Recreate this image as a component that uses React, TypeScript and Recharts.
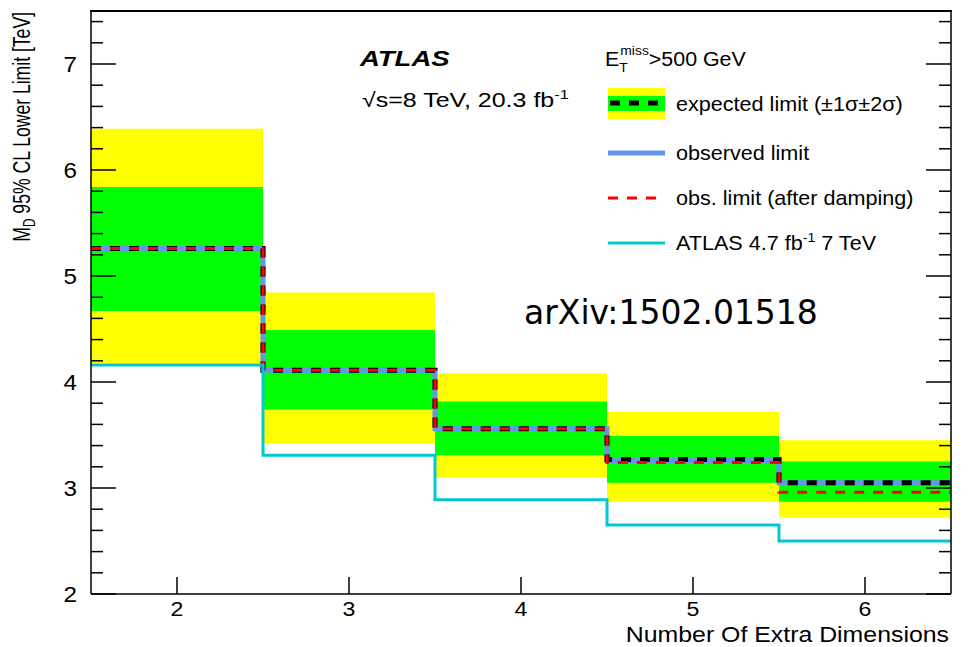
import {Area, ComposedChart, Line, XAxis, YAxis} from 'recharts';

// number of extra dimensions, one bin each
const bins = [2, 3, 4, 5, 6];
const binEdges = [1.5, 2.5, 3.5, 4.5, 5.5, 6.5];

// MD 95% CL lower limits [TeV]
const expected = [5.26, 4.11, 3.56, 3.27, 3.05];
const observed = [5.26, 4.11, 3.56, 3.26, 3.05];
const observedDamped = [5.26, 4.11, 3.56, 3.24, 2.96];
const plus1Sigma = [5.84, 4.49, 3.815, 3.49, 3.25];
const minus1Sigma = [4.67, 3.74, 3.31, 3.05, 2.87];
const plus2Sigma = [6.39, 4.845, 4.08, 3.72, 3.45];
const minus2Sigma = [4.18, 3.42, 3.1, 2.87, 2.72];
const atlas7TeV = [4.16, 3.31, 2.89, 2.65, 2.5];

const xTicks = [2, 3, 4, 5, 6];
const yTicks = [
  2, 2.2, 2.4, 2.6, 2.8, 3, 3.2, 3.4, 3.6, 3.8, 4, 4.2, 4.4, 4.6, 4.8,
  5, 5.2, 5.4, 5.6, 5.8, 6, 6.2, 6.4, 6.6, 6.8, 7, 7.2, 7.4,
];
const yTickLabels = [2, 3, 4, 5, 6, 7];
const yMax = 7.5;

const FONT = '"Liberation Sans", Arial, Helvetica, sans-serif';
const BLUE = '#6495ed';
const CYAN = '#00c8d2';
const DASH = '10 9';

// step lines need a point on every bin edge; last edge repeats the last bin
const chartData = binEdges.map((edge, i) => {
  const j = Math.min(i, bins.length - 1);
  return {
    x: edge,
    expected: expected[j],
    observed: observed[j],
    damped: observedDamped[j],
    atlas7: atlas7TeV[j],
    band1: [minus1Sigma[j], plus1Sigma[j]],
    band2: [minus2Sigma[j], plus2Sigma[j]],
  };
});

// ROOT text looks a bit wider than Liberation Sans, so stretch it horizontally
const Stretched = ({x, y, sx = 1.08, children, ...rest}: any) => (
  <g transform={`translate(${x},${y}) scale(${sx},1)`}>
    <text x={0} y={0} {...rest}>{children}</text>
  </g>
);

const LeftTick = ({x, y, payload}: any) => {
  const major = yTickLabels.includes(payload.value);
  return (
    <g>
      <line x1={x} x2={x + (major ? 25 : 12)} y1={y} y2={y} stroke="#000" strokeWidth={1.5}/>
      {major && (
        <Stretched x={x - 14} y={y + 8} sx={1.1} textAnchor="end" fontSize={22} fontFamily={FONT} fill="#000">
          {payload.value}
        </Stretched>
      )}
    </g>
  );
};

const RightTick = ({x, y, payload}: any) => {
  const major = yTickLabels.includes(payload.value);
  return <line x1={x} x2={x - (major ? 25 : 12)} y1={y} y2={y} stroke="#000" strokeWidth={1.5}/>;
};

const BottomTick = ({x, y, payload}: any) => (
  <g>
    <line x1={x} x2={x} y1={y} y2={y - 17} stroke="#000" strokeWidth={1.5}/>
    <Stretched x={x} y={y + 22} sx={1.1} textAnchor="middle" fontSize={21} fontFamily={FONT} fill="#000">
      {payload.value}
    </Stretched>
  </g>
);

const Overlay = () => (
  <svg
    width={969}
    height={647}
    style={{position: 'absolute', left: -8, top: -8, pointerEvents: 'none'}}
    fontFamily={FONT}
  >
    {/* top edge of the frame */}
    <rect x={90} y={10} width={862} height={2} fill="#000"/>

    <text transform="translate(30,12) rotate(-90) scale(0.733,1)" textAnchor="end" fontSize={24}>
      M<tspan fontSize={16} dy={5}>D</tspan>
      <tspan dy={-5}> 95% CL Lower Limit [TeV]</tspan>
    </text>
    <Stretched x={949} y={642} sx={1.13} textAnchor="end" fontSize={22}>Number Of Extra Dimensions</Stretched>

    <Stretched x={360} y={66} sx={1.25} fontSize={22} fontWeight="bold" fontStyle="italic">ATLAS</Stretched>
    <Stretched x={362} y={107} sx={1.25} fontSize={20}>
      √s=8 TeV, 20.3 fb<tspan fontSize={13} dy={-8}>-1</tspan>
    </Stretched>
    <text x={524} y={324} fontSize={33} fontFamily='"DejaVu Sans", sans-serif'>arXiv:1502.01518</text>

    <Stretched x={605} y={66} sx={1.07} fontSize={20}>
      E<tspan fontSize={13} dy={6}>T</tspan>
      <tspan fontSize={13} dx={-7} dy={-17}>miss</tspan>
      <tspan dy={11}>&gt;500 GeV</tspan>
    </Stretched>

    <rect x={608} y={88} width={57} height={31} fill="#ffff00"/>
    <rect x={608} y={96} width={57} height={15} fill="#00ff00"/>
    <line x1={610} x2={665} y1={103} y2={103} stroke="#000" strokeWidth={5} strokeDasharray={DASH}/>
    <Stretched x={676} y={111} fontSize={20}>expected limit (±1σ±2σ)</Stretched>

    <line x1={608} x2={665} y1={153} y2={153} stroke={BLUE} strokeWidth={5}/>
    <Stretched x={676} y={160} fontSize={20}>observed limit</Stretched>

    <line x1={608} x2={665} y1={198} y2={198} stroke="#ff0000" strokeWidth={3} strokeDasharray={DASH}/>
    <Stretched x={676} y={205} fontSize={20}>obs. limit (after damping)</Stretched>

    <line x1={608} x2={665} y1={243} y2={243} stroke={CYAN} strokeWidth={3}/>
    <Stretched x={676} y={250} fontSize={20}>
      ATLAS 4.7 fb<tspan fontSize={13} dy={-8}>-1</tspan>
      <tspan dy={8}> 7 TeV</tspan>
    </Stretched>
  </svg>
);

export default function App() {
  return (
    <div style={{position: 'relative', width: 961, height: 639, fontFamily: FONT}}>
      <ComposedChart width={961} height={639} data={chartData} margin={{top: 3, right: 0, bottom: 0, left: 0}}>
        <XAxis
          dataKey="x"
          type="number"
          domain={[1.5, 6.5]}
          ticks={xTicks}
          interval={0}
          height={53}
          tickSize={0}
          tickMargin={0}
          tickLine={false}
          tick={<BottomTick/>}
          axisLine={{stroke: '#000', strokeWidth: 1.5}}
          allowDataOverflow
        />
        <YAxis
          type="number"
          domain={[2, yMax]}
          ticks={yTicks}
          interval={0}
          width={83}
          tickSize={0}
          tickMargin={0}
          tickLine={false}
          tick={<LeftTick/>}
          axisLine={{stroke: '#000', strokeWidth: 1.5}}
          allowDataOverflow
        />
        <YAxis
          yAxisId="right"
          orientation="right"
          type="number"
          domain={[2, yMax]}
          ticks={yTicks}
          interval={0}
          width={18}
          tickSize={0}
          tickMargin={0}
          tickLine={false}
          tick={<RightTick/>}
          axisLine={{stroke: '#000', strokeWidth: 1.5}}
          allowDataOverflow
        />
        <Area type="stepAfter" dataKey="band2" fill="#ffff00" fillOpacity={1} stroke="none" isAnimationActive={false}/>
        <Area type="stepAfter" dataKey="band1" fill="#00ff00" fillOpacity={1} stroke="none" isAnimationActive={false}/>
        <Line type="stepAfter" dataKey="observed" stroke={BLUE} strokeWidth={5} dot={false} isAnimationActive={false}/>
        <Line type="stepAfter" dataKey="expected" stroke="#000" strokeWidth={5} strokeDasharray={DASH} dot={false} isAnimationActive={false}/>
        <Line type="stepAfter" dataKey="damped" stroke="#ff0000" strokeWidth={3} strokeDasharray={DASH} dot={false} isAnimationActive={false}/>
        <Line type="stepAfter" dataKey="atlas7" stroke={CYAN} strokeWidth={3} dot={false} isAnimationActive={false}/>
      </ComposedChart>
      <Overlay/>
    </div>
  );
}
